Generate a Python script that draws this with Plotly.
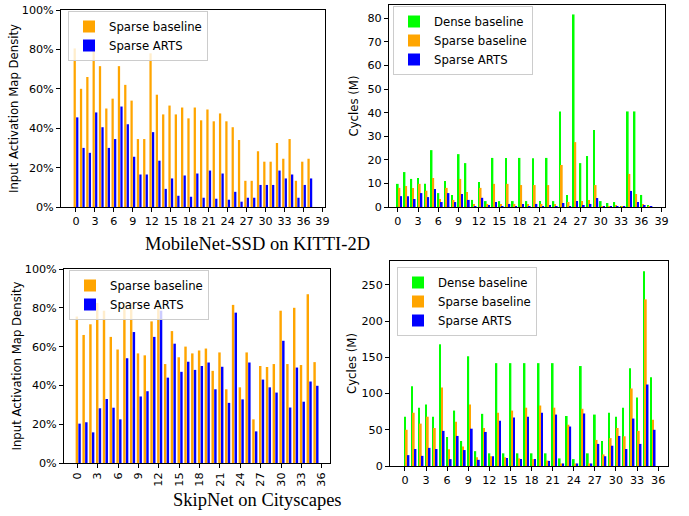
import plotly.graph_objects as go

# ---------------- data ----------------
# MobileNet-SSD on KITTI-2D (layers 0..37)
kitti_layers = list(range(38))
kitti_density_sparse = [80.5, 60, 66, 80.5, 71.5, 50, 55, 71.5, 62, 54, 34.5, 34.5, 78, 57, 47, 51.5,
                        47, 50.5, 45, 50.5, 44, 49.5, 43.5, 47.5, 43.5, 40.5, 34, 13.3, 13.3, 28.3,
                        23, 23, 32.5, 24.5, 34.5, 13.3, 23, 24.5]
kitti_density_arts = [45.5, 30, 27.5, 48, 40.5, 30, 34.5, 51, 42, 25.5, 16.5, 16.5, 38, 23.5, 9.2, 14.5,
                      5.7, 16, 5.2, 17, 4.7, 18.5, 4.2, 17, 3.7, 7.7, 2.7, 4.7, 4.7, 11.2,
                      11.2, 11.2, 18.5, 14.5, 16.5, 4.7, 11.2, 14.5]
kitti_cycles_dense = [9.8, 14.8, 11.9, 12.3, 9.8, 24.1, 5.9, 11.0, 5.1, 22.4, 18.6, 3.0, 10.6, 2.5, 20.8, 2.5,
                      20.8, 2.5, 20.8, 2.5, 20.7, 2.5, 20.8, 2.5, 40.5, 5.1, 81.6, 18.6, 21.6, 32.6,
                      2.5, 1.7, 2.1, 0.4, 40.5, 40.5, 5.1, 0.8]
kitti_cycles_sparse = [8.1, 8.9, 8.1, 9.8, 6.9, 12.3, 3.4, 8.1, 3.0, 11.9, 6.4, 1.3, 8.1, 1.3, 9.8, 1.3,
                       9.8, 1.3, 9.3, 1.3, 9.3, 1.3, 9.3, 1.3, 17.8, 2.1, 27.5, 2.5, 3.0, 9.3,
                       0.4, 0.4, 0.8, 0.4, 14.0, 5.5, 1.3, 0.4]
kitti_cycles_arts = [4.6, 4.6, 3.4, 5.9, 4.2, 7.6, 2.1, 5.9, 2.1, 5.5, 3.0, 0.4, 3.9, 0.8, 2.1, 0.4,
                     1.3, 0.4, 1.3, 0.4, 1.3, 0.4, 0.8, 0.4, 1.7, 0.4, 2.5, 0.8, 1.3, 3.8,
                     0.4, 0.4, 0.4, 0.2, 6.8, 2.1, 0.8, 0.15]

# SkipNet on Cityscapes (layers 0..35)
city_layers = list(range(36))
city_density_sparse = [75.5, 66, 71.5, 82.5, 78.5, 65, 58.5, 82.5, 82.5, 56.5, 55.5, 73, 83, 51, 68, 54.5,
                       60, 56.5, 58, 59, 47.5, 57, 38, 81.5, 39, 57, 22.5, 50, 49.5, 51,
                       78.5, 51, 80, 50.5, 87, 52]
city_density_arts = [20.3, 21, 15.8, 28.2, 33, 28.5, 22.5, 54, 67.5, 34.3, 37, 65, 78.5, 44, 61.5, 47,
                     52.2, 48, 50, 51.8, 38, 49.6, 31, 77.5, 32.8, 51.8, 16.3, 43, 39, 36.3,
                     63, 28.6, 49.2, 31.6, 42, 39.8]
city_cycles_dense = [68, 110, 80.5, 85, 68, 168, 40, 76.5, 34.5, 151.5, 20.5, 72, 17.5, 142, 17.5, 142,
                     17.5, 142, 17.5, 142, 17.5, 142, 10.5, 69, 9.5, 138, 17.5, 71, 34.5, 73.5,
                     68, 80.5, 135, 94.5, 269, 122.5]
city_cycles_sparse = [50, 73.5, 58.5, 68, 52.5, 108.5, 23, 61, 27, 85, 12, 52.5, 13.5, 73.5, 12, 76.5,
                      10.5, 80.5, 9.5, 83.5, 7.5, 80.5, 3.5, 57, 3.5, 79, 3.5, 36, 16, 38.5,
                      52.5, 41, 107, 48.5, 230, 64]
city_cycles_arts = [15, 23.5, 14, 25, 23.5, 48.5, 9.5, 41.5, 22, 51.5, 8.5, 47, 13.5, 62.5, 11, 67,
                    9.5, 68, 9.5, 73.5, 7, 71, 3.5, 54.5, 3.5, 72.5, 3.5, 30.5, 13.5, 28,
                    41.5, 23.5, 65.5, 30.5, 112.5, 50]

kitti_ticks = list(range(0, 40, 3))
city_ticks = list(range(0, 37, 3))
density_ticks = [0, 20, 40, 60, 80, 100]
density_tick_labels = ["0%", "20%", "40%", "60%", "80%", "100%"]

GREEN = "#00ff00"
ORANGE = "#ffa500"
BLUE = "#0000ff"
FONT = "DejaVu Sans"
FS = 11.7
TFS = 11.2

W, H = 689, 516
def px(x0, x1):
    return [x0 / W, x1 / W]
def py(y0, y1):
    return [1 - y1 / H, 1 - y0 / H]

fig = go.Figure()

def add_bar(x, y, color, name, xa, ya, offset, width, legend, showlegend=True):
    fig.add_trace(go.Bar(x=x, y=y, name=name, marker=dict(color=color, line=dict(width=0)),
                         offset=offset, width=width, xaxis=xa, yaxis=ya,
                         legend=legend, showlegend=showlegend, hoverinfo="x+y"))

# top-left
add_bar(kitti_layers, kitti_density_sparse, ORANGE, "Sparse baseline", "x", "y", -0.38, 0.36, "legend")
add_bar(kitti_layers, kitti_density_arts, BLUE, "Sparse ARTS", "x", "y", 0.02, 0.36, "legend")
# top-right
add_bar(kitti_layers, kitti_cycles_dense, GREEN, "Dense baseline", "x2", "y2", -0.125, 0.25, "legend2")
add_bar(kitti_layers, kitti_cycles_sparse, ORANGE, "Sparse baseline", "x2", "y2", 0.125, 0.25, "legend2")
add_bar(kitti_layers, kitti_cycles_arts, BLUE, "Sparse ARTS", "x2", "y2", 0.375, 0.25, "legend2")
# bottom-left
add_bar(city_layers, city_density_sparse, ORANGE, "Sparse baseline", "x3", "y3", -0.25, 0.36, "legend3")
add_bar(city_layers, city_density_arts, BLUE, "Sparse ARTS", "x3", "y3", 0.15, 0.36, "legend3")
# bottom-right
add_bar(city_layers, city_cycles_dense, GREEN, "Dense baseline", "x4", "y4", -0.125, 0.25, "legend4")
add_bar(city_layers, city_cycles_sparse, ORANGE, "Sparse baseline", "x4", "y4", 0.125, 0.25, "legend4")
add_bar(city_layers, city_cycles_arts, BLUE, "Sparse ARTS", "x4", "y4", 0.375, 0.25, "legend4")

axis_common = dict(showline=True, linecolor="black", linewidth=1, mirror=True, ticks="outside",
                   ticklen=4, tickwidth=1, tickcolor="black", showgrid=False, zeroline=False,
                   tickfont=dict(family=FONT, size=TFS, color="black"), automargin=False)

def ytitle(text, standoff):
    return dict(text=text, font=dict(family=FONT, size=FS, color="black"), standoff=standoff)

def legend_cfg(x, y):
    return dict(x=x / W, y=1 - y / H, xanchor="left", yanchor="top", xref="paper", yref="paper",
                bgcolor="rgba(255,255,255,0.8)", bordercolor="#cccccc", borderwidth=1,
                font=dict(family=FONT, size=FS, color="black"), tracegroupgap=0)

fig.update_layout(
    width=W, height=H, autosize=False, margin=dict(l=0, r=0, t=0, b=0),
    paper_bgcolor="white", plot_bgcolor="white", barmode="overlay",
    xaxis=dict(domain=px(61, 325), range=[-2.37, 39.4], tickvals=kitti_ticks, anchor="y", **axis_common),
    yaxis=dict(domain=py(10, 207), range=[0, 100], tickvals=density_ticks, ticktext=density_tick_labels,
               anchor="x", title=ytitle("Input Activation Map Density", 0), **axis_common),
    xaxis2=dict(domain=px(389, 665), range=[-1.3, 39.5], tickvals=kitti_ticks, anchor="y2", **axis_common),
    yaxis2=dict(domain=py(5, 207), range=[0, 85.6], dtick=10, anchor="x2",
                title=ytitle("Cycles (M)", 6), **axis_common),
    xaxis3=dict(domain=px(64, 330), range=[-1.96, 37.2], tickvals=city_ticks, tickangle=-90, anchor="y3", **axis_common),
    yaxis3=dict(domain=py(269, 463), range=[0, 100], tickvals=density_ticks, ticktext=density_tick_labels,
                anchor="x3", title=ytitle("Input Activation Map Density", 0), **axis_common),
    xaxis4=dict(domain=px(390, 668), range=[-2.13, 37.4], tickvals=city_ticks, anchor="y4", **axis_common),
    yaxis4=dict(domain=py(261, 466), range=[0, 283], dtick=50, anchor="x4",
                title=ytitle("Cycles (M)", 2), **axis_common),
    legend=legend_cfg(68, 11),
    legend2=legend_cfg(393, 6),
    legend3=legend_cfg(69, 270),
    legend4=legend_cfg(397, 267),
    annotations=[
        dict(text="MobileNet-SSD on KITTI-2D", x=257.5 / W, y=1 - 244 / H, xref="paper", yref="paper",
             xanchor="center", yanchor="middle", showarrow=False,
             font=dict(family="Liberation Serif", size=18.5, color="black")),
        dict(text="SkipNet on Cityscapes", x=257.5 / W, y=1 - 500 / H, xref="paper", yref="paper",
             xanchor="center", yanchor="middle", showarrow=False,
             font=dict(family="Liberation Serif", size=18.5, color="black")),
    ],
)

fig.write_html("out.html", config={"displayModeBar": False},
               post_script="document.body.style.margin='0px';")
